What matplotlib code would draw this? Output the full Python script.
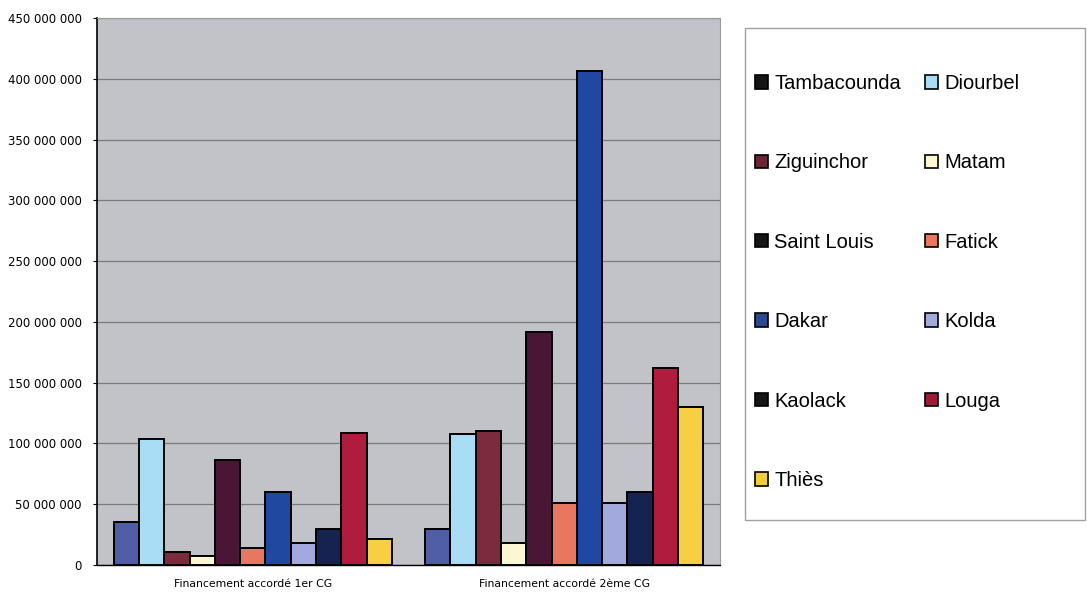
import matplotlib.pyplot as plt
from matplotlib.patches import Patch, Rectangle
from matplotlib.ticker import FuncFormatter
import numpy as np

plt.rcParams['font.family'] = ['Liberation Sans', 'DejaVu Sans']

# Financement par region (FCFA)
groupes = ["Financement accordé 1er CG", "Financement accordé 2ème CG"]
regions = ["Tambacounda", "Diourbel", "Ziguinchor", "Matam", "Saint Louis",
           "Fatick", "Dakar", "Kolda", "Kaolack", "Louga", "Thiès"]
cg1 = [35e6, 104e6, 11e6, 7e6, 86e6, 14e6, 60e6, 18e6, 29.5e6, 109e6, 21e6]
cg2 = [30e6, 108e6, 110e6, 18e6, 192e6, 51e6, 406e6, 51e6, 60e6, 162e6, 130e6]

couleurs = ["#4f5ea6", "#a9ddf6", "#7b2b3b", "#fcf6d2", "#4a1636", "#e8775f",
            "#2048a0", "#a2a9dc", "#16224f", "#b01c3e", "#f8cf42"]
# les carres de la legende sortent presque noirs pour certaines regions
couleurs_leg = ["#151515", "#a9ddf6", "#6b2535", "#fcf6d2", "#151515", "#e8775f",
                "#2a4a90", "#a2a9dc", "#151515", "#a01a3a", "#f0cc40"]

fig = plt.figure(figsize=(10.87, 5.96), dpi=100)
ax = fig.add_axes([97/1087, 1 - 565/596, 623/1087, 547/596])
ax.set_facecolor("#c2c2c9")

x = np.arange(len(groupes))
n = len(regions)
larg = 0.0812
for i in range(n):
    vals = [cg1[i], cg2[i]]
    ax.bar(x + (i - (n - 1) / 2) * larg, vals, width=larg, color=couleurs[i],
           edgecolor="black", linewidth=1.4, zorder=3)

ax.set_xlim(-0.5, 1.5)
ax.set_ylim(0, 450e6)
ax.set_yticks(np.arange(0, 450e6 + 1, 50e6))
ax.yaxis.set_major_formatter(FuncFormatter(lambda v, p: f"{int(v):,}".replace(",", " ")))
ax.grid(axis="y", color="#7a7a7a", linewidth=0.9, zorder=1)
ax.set_xticks(x)
ax.set_xticklabels(groupes, fontsize=7.8, family="DejaVu Sans")
for t in ax.get_yticklabels():
    t.set_family("DejaVu Sans")
ax.tick_params(axis="x", length=0, pad=10)
ax.tick_params(axis="y", labelsize=8.5, length=3, width=0.8, pad=8)
for s in ["top", "right"]:
    ax.spines[s].set_color("#9a9a9a")
ax.spines["left"].set_linewidth(1.2)
ax.spines["bottom"].set_linewidth(1.0)

# cadre de la legende
fig.patches.append(Rectangle((745/1087, 1 - 520/596), 340/1087, 492/596,
                             transform=fig.transFigure, facecolor="white",
                             edgecolor="#a0a0a0", linewidth=1.0, zorder=0))

# ordre pour remplir la legende ligne par ligne sur deux colonnes
ordre = list(range(0, n, 2)) + list(range(1, n, 2))
handles = [Patch(facecolor=couleurs_leg[i], edgecolor="black", linewidth=1.2) for i in ordre]
labels = [regions[i] for i in ordre]
leg = fig.legend(handles, labels, loc="upper left", ncol=2,
                 bbox_to_anchor=(755/1087, 1 - 74/596),
                 fontsize=14.5, labelspacing=3.0, handlelength=0.65,
                 handleheight=0.65, handletextpad=0.3, columnspacing=1.2,
                 borderpad=0, borderaxespad=0, frameon=False)

plt.savefig("out.png", dpi=100)
